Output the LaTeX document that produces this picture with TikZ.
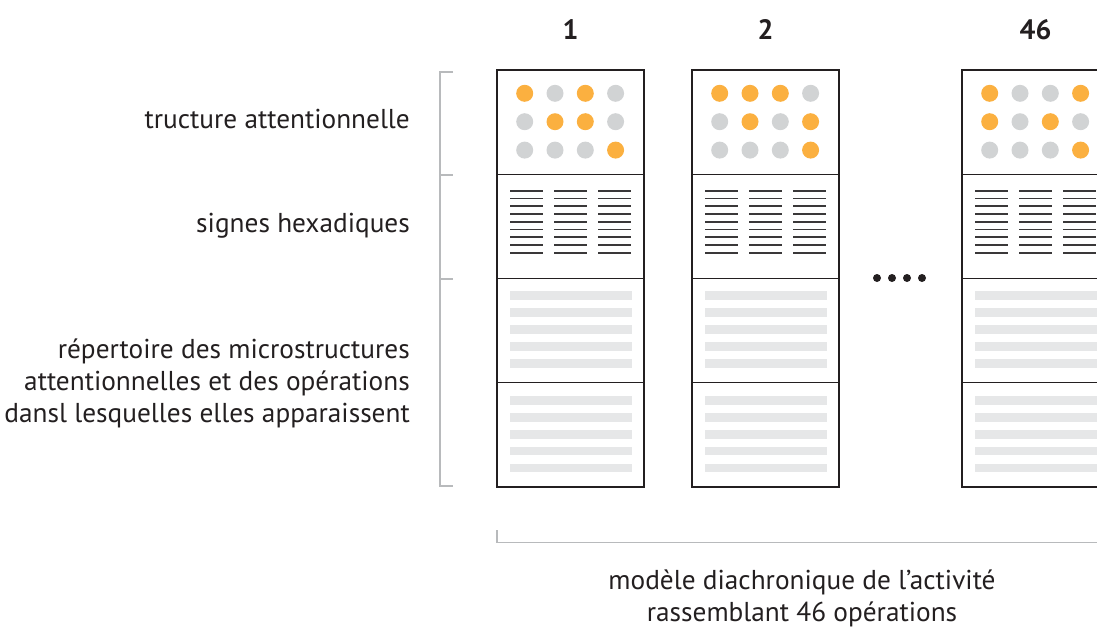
\documentclass[tikz,border=0pt]{standalone}
\usepackage{fontspec}
\setmainfont{PT Sans}
\definecolor{ink}{HTML}{231F20}
\definecolor{dot1}{HTML}{FBB040}
\definecolor{dot0}{HTML}{D1D3D4}
\definecolor{bargray}{HTML}{E6E7E8}
\definecolor{brk}{HTML}{B8BABC}
\definecolor{hexink}{HTML}{3A3839}
\tikzset{
  sect/.style={draw=ink, line width=1.3pt, minimum width=147pt, minimum height=104.25pt, anchor=north west, outer sep=0pt, inner sep=0pt},
  hexl/.style={draw=hexink, line width=1.6pt},
  bar/.style={fill=bargray},
  brack/.style={draw=brk, line width=1.2pt},
  lab/.style={text=ink, font=\fontsize{27.3}{31.8}\selectfont, inner sep=0pt},
  numlab/.style={text=ink, font=\fontsize{28}{30}\selectfont\bfseries, inner sep=0pt, anchor=base},
}
\newcommand\opcolumn[4]{%
  \node[sect] (#3s1) at (#1,70) {};
  \node[sect] (#3s2) at (#1,174.25) {};
  \node[sect] (#3s3) at (#1,278.5) {};
  \node[sect] (#3s4) at (#1,382.75) {};
  \node[numlab] (#3n) at (#1+73.5,39.5) {#2};
  \foreach \v [count=\i from 0] in {#4} {
    \pgfmathtruncatemacro\row{\i/4}
    \pgfmathtruncatemacro\col{\i-4*\row}
    \fill[dot\v] (#1+27.7+30.3*\col, 93.3+28.4*\row) circle (8.5);
  }
  \foreach \g in {0,1,2} {
    \foreach \k in {0,...,8} {
      \draw[hexl] (#1+13+44*\g, 190.7+7.75*\k) -- ++(33.3,0);
    }
  }
  \foreach \k in {0,...,4} {
    \fill[bar] (#1+13, 291+17*\k) rectangle ++(122,8.7);
    \fill[bar] (#1+13, 396+16.9*\k) rectangle ++(122,8.7);
  }
}
\begin{document}
\begin{tikzpicture}[x=1pt,y=-1pt]
\useasboundingbox (0,0) rectangle (1097,627);
\clip (0,0) rectangle (1097,627);
\opcolumn{497}{1}{a}{1,0,1,0,0,1,1,0,0,0,0,1}
\opcolumn{692}{2}{b}{1,1,1,0,0,1,0,1,0,0,0,1}
\opcolumn{962}{46}{c}{1,0,0,1,1,0,1,0,0,0,0,1}
% ellipsis
\foreach \k in {0,...,3} { \fill[ink] (877+15*\k,278) circle (4); }
% left bracket
\draw[brack] (453,72) -- (440,72) -- (440,486) -- (453,486);
\draw[brack] (440,175) -- (453,175);
\draw[brack] (440,279) -- (453,279);
% bottom bracket
\draw[brack] (497,530) -- (497,542.5) -- (1097,542.5);
% labels
\node[lab, anchor=base east] (l1) at (410,128.5) {tructure attentionnelle};
\node[lab, anchor=base east] (l2) at (410,232) {signes hexadiques};
\node[lab, anchor=base east, align=right] (l3) at (410,422.5) {répertoire des microstructures\\attentionnelles et des opérations\\dansl lesquelles elles apparaissent};
\node[lab, anchor=base, align=center] (l4) at (802,621) {modèle diachronique de l’activité\\rassemblant 46 opérations};
\end{tikzpicture}
\end{document}
